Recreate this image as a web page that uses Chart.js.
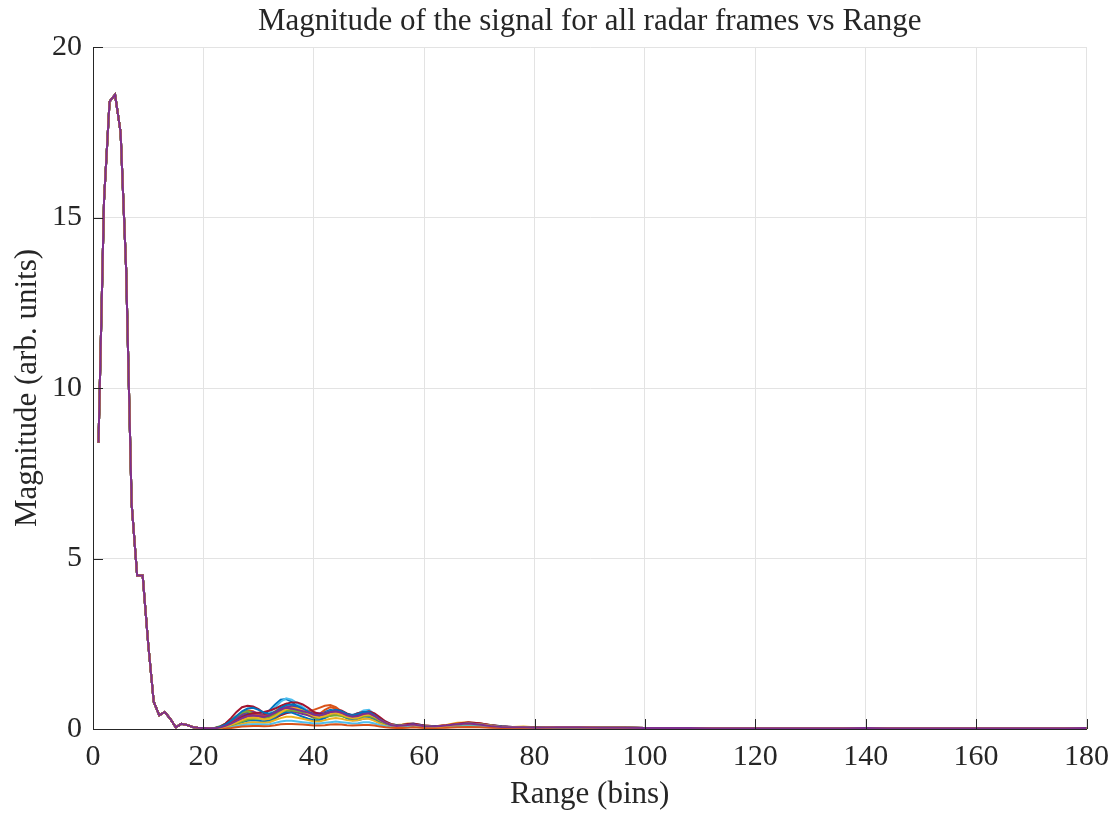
<!DOCTYPE html>
<html lang="en">
<head>
    <meta charset="UTF-8">
    <title>Magnitude vs Range</title>
    <script src="https://cdn.jsdelivr.net/npm/chart.js"></script>
    <style>
        html, body { margin: 0; padding: 0; background: #fff; }
        #wrap { width: 1119px; height: 814px; }
    </style>
</head>
<body>
<div id="wrap"><canvas id="myChart" width="1119" height="814"></canvas></div>

<script>
    // range bins where every frame has the same (static) return
    const staticBins = [1, 2, 3, 4, 5, 6, 7, 8, 9, 10, 11, 12, 13, 14, 15, 16, 17, 18, 19, 20, 21];
    const staticMag = [8.4, 15.5, 18.4, 18.6, 17.5, 13.5, 6.6, 4.5, 4.5, 2.5, 0.8, 0.4, 0.5, 0.3, 0.05, 0.15, 0.12, 0.06, 0.04, 0.03, 0.02];

    // bins where the frames differ
    const clutterBins = [22, 23, 24, 25, 26, 27, 28, 29, 30, 31, 32, 33, 34, 35, 36, 37, 38, 39, 40, 41,
        42, 43, 44, 45, 46, 47, 48, 49, 50, 51, 52, 53, 54, 55, 56, 57, 58,
        60, 62, 64, 66, 68, 70, 72, 74, 76, 78, 80];

    const clutterFrames = [
        [0.02,0.05,0.10,0.18,0.28,0.38,0.45,0.48,0.45,0.42, 0.55,0.72,0.86,0.88,0.80,0.66,0.52,0.42,0.38,0.42,
         0.50,0.56,0.52,0.44,0.38,0.40,0.46,0.50,0.46,0.36, 0.26,0.18,0.12,0.10,0.11,0.13,0.12,
         0.08,0.07,0.10,0.15,0.17,0.14,0.10,0.06,0.05,0.06,0.05],
        [0.02,0.06,0.12,0.22,0.34,0.46,0.55,0.52,0.42,0.30, 0.32,0.48,0.66,0.74,0.70,0.62,0.56,0.48,0.40,0.44,
         0.56,0.64,0.60,0.48,0.36,0.30,0.34,0.42,0.40,0.30, 0.20,0.14,0.10,0.08,0.09,0.12,0.14,
         0.10,0.06,0.08,0.13,0.16,0.15,0.11,0.07,0.05,0.05,0.04],
        [0.01,0.04,0.09,0.15,0.22,0.30,0.36,0.38,0.36,0.34, 0.40,0.52,0.62,0.66,0.64,0.60,0.58,0.52,0.44,0.40,
         0.42,0.48,0.50,0.46,0.40,0.36,0.38,0.42,0.44,0.38, 0.28,0.20,0.14,0.12,0.13,0.16,0.15,
         0.09,0.08,0.12,0.18,0.19,0.14,0.09,0.06,0.06,0.07,0.05],
        [0.02,0.05,0.11,0.20,0.32,0.42,0.50,0.50,0.46,0.40, 0.38,0.44,0.56,0.64,0.66,0.64,0.60,0.54,0.48,0.46,
         0.48,0.52,0.54,0.50,0.42,0.38,0.40,0.46,0.48,0.40, 0.28,0.18,0.12,0.09,0.10,0.12,0.13,
         0.08,0.07,0.10,0.14,0.16,0.13,0.09,0.07,0.06,0.05,0.04],
        [0.03,0.08,0.16,0.26,0.38,0.48,0.52,0.46,0.36,0.26, 0.24,0.30,0.42,0.54,0.60,0.58,0.50,0.40,0.32,0.30,
         0.36,0.44,0.46,0.40,0.32,0.28,0.30,0.36,0.38,0.32, 0.22,0.15,0.10,0.08,0.08,0.10,0.11,
         0.07,0.06,0.09,0.12,0.14,0.12,0.08,0.05,0.04,0.05,0.04],
        [0.01,0.03,0.07,0.13,0.20,0.28,0.34,0.36,0.34,0.36, 0.46,0.64,0.80,0.90,0.86,0.76,0.64,0.52,0.44,0.42,
         0.46,0.52,0.54,0.50,0.44,0.42,0.46,0.54,0.56,0.44, 0.32,0.22,0.15,0.12,0.12,0.14,0.16,
         0.10,0.07,0.09,0.14,0.18,0.16,0.12,0.08,0.06,0.06,0.05],
        [0.02,0.07,0.16,0.32,0.50,0.64,0.68,0.66,0.58,0.46, 0.36,0.34,0.40,0.46,0.50,0.52,0.54,0.50,0.44,0.42,
         0.46,0.50,0.48,0.42,0.38,0.40,0.46,0.50,0.46,0.36, 0.24,0.16,0.11,0.09,0.10,0.12,0.12,
         0.08,0.06,0.08,0.12,0.15,0.13,0.09,0.06,0.05,0.05,0.04],
        [0.01,0.02,0.05,0.09,0.14,0.20,0.24,0.26,0.24,0.22, 0.26,0.34,0.44,0.50,0.48,0.42,0.36,0.30,0.26,0.26,
         0.32,0.40,0.44,0.40,0.32,0.26,0.26,0.30,0.32,0.26, 0.18,0.12,0.08,0.06,0.07,0.09,0.10,
         0.06,0.05,0.07,0.10,0.12,0.10,0.07,0.05,0.04,0.04,0.03],
        [0.02,0.05,0.10,0.17,0.26,0.34,0.40,0.42,0.40,0.38, 0.42,0.52,0.60,0.62,0.58,0.52,0.50,0.52,0.56,0.62,
         0.68,0.70,0.64,0.52,0.42,0.36,0.38,0.44,0.46,0.40, 0.30,0.20,0.14,0.11,0.12,0.14,0.15,
         0.10,0.08,0.11,0.16,0.20,0.17,0.11,0.07,0.05,0.06,0.05],
        [0.01,0.02,0.04,0.07,0.11,0.15,0.18,0.20,0.19,0.18, 0.20,0.26,0.32,0.36,0.36,0.33,0.30,0.26,0.22,0.22,
         0.26,0.30,0.32,0.30,0.26,0.24,0.26,0.30,0.30,0.24, 0.16,0.11,0.08,0.06,0.06,0.08,0.09,
         0.06,0.05,0.07,0.10,0.11,0.09,0.06,0.04,0.04,0.04,0.03],
        [0.02,0.04,0.08,0.14,0.22,0.30,0.36,0.38,0.36,0.34, 0.36,0.44,0.52,0.56,0.54,0.48,0.44,0.40,0.36,0.36,
         0.40,0.46,0.48,0.44,0.38,0.34,0.36,0.42,0.44,0.36, 0.26,0.17,0.11,0.08,0.09,0.11,0.12,
         0.07,0.06,0.09,0.13,0.15,0.12,0.08,0.06,0.05,0.05,0.04],
        [0.01,0.03,0.06,0.10,0.16,0.22,0.28,0.30,0.30,0.30, 0.34,0.42,0.50,0.54,0.54,0.52,0.50,0.46,0.40,0.36,
         0.36,0.38,0.40,0.38,0.34,0.32,0.34,0.38,0.40,0.34, 0.24,0.16,0.10,0.08,0.08,0.10,0.11,
         0.07,0.06,0.08,0.12,0.14,0.12,0.08,0.06,0.05,0.05,0.04],
        [0.01,0.02,0.03,0.05,0.08,0.11,0.13,0.14,0.14,0.13, 0.14,0.18,0.22,0.24,0.24,0.22,0.20,0.18,0.16,0.16,
         0.18,0.20,0.22,0.20,0.18,0.16,0.17,0.20,0.20,0.16, 0.11,0.08,0.06,0.05,0.05,0.06,0.07,
         0.05,0.04,0.05,0.07,0.08,0.07,0.05,0.04,0.03,0.03,0.03],
        [0.02,0.04,0.09,0.16,0.25,0.35,0.42,0.46,0.48,0.50, 0.54,0.60,0.68,0.74,0.78,0.78,0.72,0.62,0.50,0.44,
         0.44,0.50,0.56,0.54,0.46,0.40,0.42,0.48,0.52,0.46, 0.34,0.22,0.14,0.11,0.12,0.15,0.16,
         0.10,0.08,0.10,0.15,0.19,0.17,0.12,0.08,0.06,0.06,0.05],
        [0.02,0.06,0.13,0.24,0.38,0.52,0.60,0.62,0.56,0.48, 0.44,0.50,0.62,0.70,0.72,0.68,0.60,0.50,0.42,0.40,
         0.44,0.52,0.56,0.52,0.44,0.40,0.44,0.50,0.50,0.40, 0.28,0.18,0.12,0.10,0.10,0.12,0.13,
         0.09,0.07,0.09,0.13,0.16,0.14,0.10,0.07,0.05,0.05,0.04],
        [0.00,0.01,0.02,0.03,0.05,0.07,0.08,0.09,0.09,0.08, 0.09,0.11,0.14,0.15,0.15,0.14,0.13,0.12,0.10,0.10,
         0.11,0.13,0.14,0.13,0.11,0.10,0.11,0.12,0.12,0.10, 0.07,0.05,0.04,0.03,0.03,0.04,0.05,
         0.03,0.03,0.04,0.05,0.06,0.05,0.04,0.03,0.02,0.02,0.02],
        [0.01,0.03,0.07,0.12,0.19,0.26,0.32,0.34,0.32,0.28, 0.30,0.38,0.48,0.58,0.62,0.60,0.54,0.46,0.38,0.34,
         0.38,0.44,0.46,0.42,0.36,0.32,0.34,0.40,0.42,0.36, 0.26,0.18,0.12,0.09,0.10,0.12,0.12,
         0.08,0.06,0.09,0.13,0.16,0.14,0.10,0.06,0.05,0.05,0.04],
        [0.02,0.04,0.09,0.16,0.24,0.32,0.38,0.40,0.38,0.36, 0.40,0.48,0.58,0.62,0.60,0.56,0.52,0.48,0.42,0.40,
         0.44,0.50,0.52,0.48,0.40,0.36,0.38,0.44,0.46,0.38, 0.27,0.18,0.12,0.09,0.10,0.12,0.13,
         0.08,0.07,0.10,0.14,0.16,0.13,0.09,0.06,0.05,0.05,0.04]
    ];

    // far range, nearly empty
    const tailBins = [84, 88, 92, 96, 100, 104, 108, 112, 116, 120, 124, 128, 132, 136, 140, 144, 148, 152, 156, 160, 164, 168, 172, 176, 180];
    const tailMag = [0.05, 0.05, 0.04, 0.04, 0.03, 0.03, 0.03, 0.02, 0.02, 0.02, 0.02, 0.02, 0.02, 0.02, 0.03, 0.02, 0.02, 0.02, 0.02, 0.02, 0.02, 0.02, 0.02, 0.02, 0.03];

    const xTicks = [0, 20, 40, 60, 80, 100, 120, 140, 160, 180];
    const yTicks = [0, 5, 10, 15, 20];

    const lineColors = ['#0072BD', '#D95319', '#EDB120', '#7E2F8E', '#77AC30', '#4DBEEE', '#A2142F'];

    const chartTitle = 'Magnitude of the signal for all radar frames vs Range';
    const FONT = '"Liberation Serif", "DejaVu Serif", serif';
    const INK = '#262626';

    function framePoints(frame) {
        var pts = [];
        staticBins.forEach(function (b, i) { pts.push({ x: b, y: staticMag[i] }); });
        clutterBins.forEach(function (b, i) { pts.push({ x: b, y: frame[i] }); });
        tailBins.forEach(function (b, i) { pts.push({ x: b, y: tailMag[i] }); });
        return pts;
    }

    // later frames are drawn on top, like MATLAB's plot()
    var datasets = clutterFrames.map(function (frame, i) {
        return {
            label: 'Frame ' + (i + 1),
            data: framePoints(frame),
            borderColor: lineColors[i % lineColors.length],
            borderWidth: 2,
            pointRadius: 0,
            tension: 0,
            fill: false,
            order: -i
        };
    });

    // MATLAB style inward tick marks + title centred over the axes
    var matlabLook = {
        id: 'matlabLook',
        afterDraw: function (chart) {
            var ctx = chart.ctx, a = chart.chartArea;
            var xs = chart.scales.x, ys = chart.scales.y;
            ctx.save();
            ctx.strokeStyle = INK;
            ctx.lineWidth = 1;
            ctx.beginPath();
            xTicks.forEach(function (v) {
                var px = Math.round(xs.getPixelForValue(v)) + 0.5;
                ctx.moveTo(px, a.bottom);
                ctx.lineTo(px, a.bottom - 10);
            });
            yTicks.forEach(function (v) {
                var py = Math.round(ys.getPixelForValue(v)) + 0.5;
                ctx.moveTo(a.left, py);
                ctx.lineTo(a.left + 10, py);
            });
            ctx.stroke();

            ctx.fillStyle = INK;
            ctx.font = '31px ' + FONT;
            ctx.textAlign = 'center';
            ctx.textBaseline = 'middle';
            ctx.fillText(chartTitle, (a.left + a.right) / 2, 22);
            ctx.restore();
        }
    };

    var ctx = document.getElementById('myChart').getContext('2d');
    var myChart = new Chart(ctx, {
        type: 'line',
        data: { datasets: datasets },
        plugins: [matlabLook],
        options: {
            responsive: false,
            animation: false,
            layout: { padding: { left: 0, right: 31, top: 47, bottom: 0 } },
            plugins: {
                legend: { display: false },
                tooltip: { enabled: false },
                title: { display: false }
            },
            scales: {
                x: {
                    type: 'linear',
                    min: 0,
                    max: 180,
                    afterBuildTicks: function (s) { s.ticks = xTicks.map(function (v) { return { value: v }; }); },
                    afterFit: function (s) { s.height = 85; },
                    grid: { color: '#e3e3e3', drawTicks: false },
                    border: { color: INK, width: 1 },
                    ticks: { color: INK, padding: 10, font: { family: FONT, size: 30 } },
                    title: {
                        display: true,
                        text: 'Range (bins)',
                        color: INK,
                        font: { family: FONT, size: 31 },
                        padding: { top: 0, bottom: 1 }
                    }
                },
                y: {
                    type: 'linear',
                    min: 0,
                    max: 20,
                    afterBuildTicks: function (s) { s.ticks = yTicks.map(function (v) { return { value: v }; }); },
                    afterFit: function (s) { s.width = 93; },
                    grid: { color: '#e3e3e3', drawTicks: false },
                    border: { color: INK, width: 1 },
                    ticks: { color: INK, padding: 11, font: { family: FONT, size: 30 } },
                    title: {
                        display: true,
                        text: 'Magnitude (arb. units)',
                        color: INK,
                        font: { family: FONT, size: 31 },
                        padding: { top: 9, bottom: 0 }
                    }
                }
            }
        }
    });
</script>
</body>
</html>
